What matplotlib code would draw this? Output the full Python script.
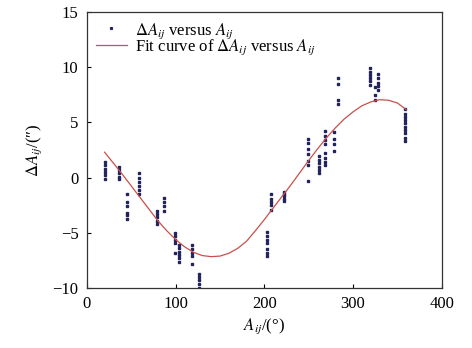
import numpy as np
import matplotlib
matplotlib.use("Agg")
import matplotlib.pyplot as plt

plt.rcParams["font.family"] = ["Liberation Serif", "DejaVu Serif"]
plt.rcParams["mathtext.fontset"] = "stix"
plt.rcParams["font.size"] = 12

# measured points, grouped by angle
angles = [21, 36, 45, 59, 79, 87, 99, 104, 119, 126,
          202.5, 208, 222, 249, 262, 268, 279, 283.5, 319, 324.5, 328, 359]
deltas = [
    [1.4, 1.1, 0.8, 0.5, 0.2, -0.1],
    [1.0, 0.7, 0.4, 0.1, -0.1],
    [-1.5, -2.2, -2.6, -3.2, -3.4, -3.7],
    [0.4, 0.0, -0.4, -0.8, -1.1, -1.5],
    [-3.0, -3.3, -3.6, -3.9, -4.2],
    [-1.8, -2.2, -2.6, -3.0],
    [-5.0, -5.3, -5.6, -5.9, -6.8],
    [-6.1, -6.4, -6.7, -7.0, -7.3, -7.6],
    [-6.1, -6.5, -6.8, -7.1, -7.8],
    [-8.7, -9.0, -9.3, -9.6, -9.95],
    [-4.9, -5.3, -5.6, -5.9, -6.5, -6.8, -7.1],
    [-1.5, -1.9, -2.2, -2.5, -2.9],
    [-1.3, -1.5, -1.7, -1.9, -2.1],
    [3.5, 3.1, 2.6, 2.1, 1.5, 1.1, -0.3],
    [2.0, 1.6, 1.3, 1.0, 0.7, 0.4],
    [4.2, 3.8, 3.4, 3.0, 2.2, 1.8, 1.4, 1.1],
    [4.1, 3.5, 3.0, 2.4],
    [9.0, 8.5, 7.0, 6.7],
    [9.9, 9.6, 9.3, 9.0, 8.7, 8.4],
    [8.2, 7.5, 7.0],
    [9.4, 9.0, 8.6, 8.3, 7.9],
    [6.2, 5.8, 5.5, 5.2, 4.9, 4.6, 4.3, 4.0, 3.6, 3.3],
]

# fit curve
fit_a = [20, 30, 40, 50, 60, 70, 80, 90, 100, 110, 120, 130, 140, 150, 160,
         170, 180, 190, 200, 210, 220, 230, 240, 250, 260, 270, 280, 290,
         300, 310, 320, 330, 340, 350, 360]
fit_d = [2.3, 1.3, 0.3, -0.75, -1.8, -2.85, -3.9, -4.8, -5.6, -6.25, -6.75,
         -7.05, -7.15, -7.1, -6.85, -6.4, -5.75, -4.8, -3.8, -2.75, -1.7,
         -0.65, 0.45, 1.55, 2.6, 3.6, 4.5, 5.3, 5.95, 6.5, 6.85, 7.05, 7.0,
         6.75, 6.15]

xs = np.concatenate([[a] * len(d) for a, d in zip(angles, deltas)])
ys = np.concatenate(deltas)

fig = plt.figure(figsize=(4.72, 3.48), dpi=100)
ax = fig.add_axes([0.184, 0.172, 0.752, 0.794])

ax.plot(xs, ys, "s", color="#23235e", markersize=1.6, linestyle="none",
        label=r"$\Delta A_{ij}$ versus $A_{ij}$")
ax.plot(fit_a, fit_d, color="#c8504a", linewidth=0.9,
        label=r"Fit curve of $\Delta A_{ij}$ versus $A_{ij}$")

ax.set_xlim(0, 400)
ax.set_ylim(-10, 15)
ax.set_xticks([0, 100, 200, 300, 400])
ax.set_yticks([-10, -5, 0, 5, 10, 15])
ax.set_yticklabels(["\u221210", "\u22125", "0", "5", "10", "15"])
ax.tick_params(direction="in", length=3, width=0.8, pad=6)
for s in ax.spines.values():
    s.set_linewidth(0.9)
    s.set_color("#333333")

ax.set_xlabel(r"$A_{ij}$/(°)", labelpad=3)
ax.set_ylabel(r"$\Delta A_{ij}$/(″)", labelpad=6)

leg = ax.legend(loc="upper left", frameon=False, handlelength=1.85,
                handletextpad=0.5, borderaxespad=0.2, borderpad=0.35,
                labelspacing=-0.18, fontsize=12, numpoints=1, markerscale=0.8)

fig.savefig("out.png", dpi=100)
